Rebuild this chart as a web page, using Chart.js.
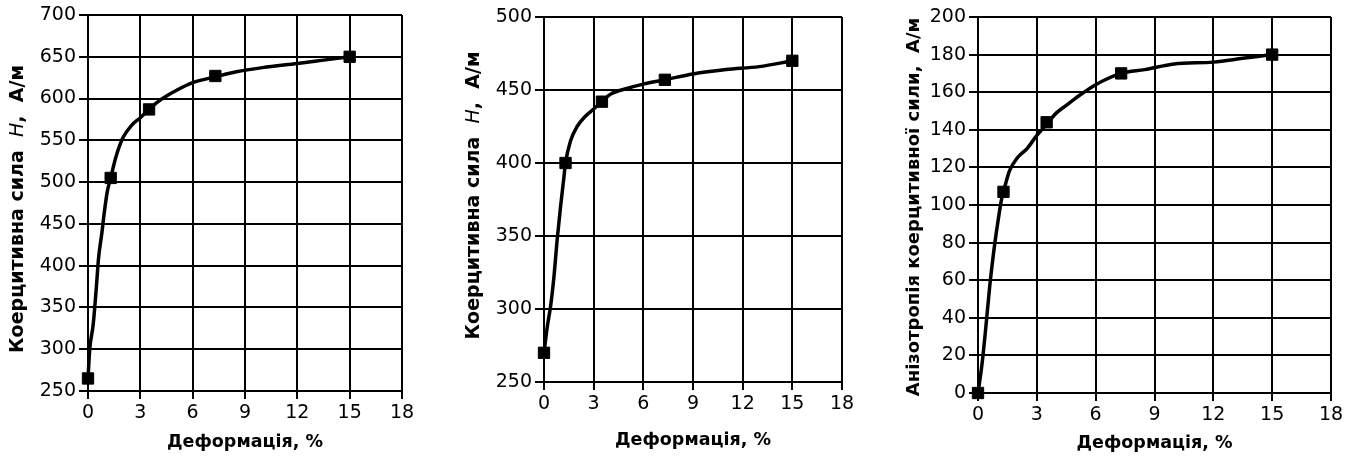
<!DOCTYPE html>
<html>
<head>
<meta charset="utf-8">
<script src="https://cdn.jsdelivr.net/npm/chart.js@4"></script>
<style>
    html, body { margin: 0; padding: 0; background: #fff; }
    .box { position: absolute; top: 0; height: 457px; }
</style>
</head>
<body>
<div class="box" style="left:0;width:430px"><canvas id="chart1"></canvas></div>
<div class="box" style="left:451px;width:420px"><canvas id="chart2"></canvas></div>
<div class="box" style="left:902px;width:451px"><canvas id="chart3"></canvas></div>
<script>
// shared x axis
const strainTicks = [0, 3, 6, 9, 12, 15, 18];
const strainMarks = [0, 1.3, 3.5, 7.3, 15];

// chart 1 - coercive force H
const strainCurve1 = [0, 0.1, 0.3, 0.5, 0.6, 0.8, 0.9, 1.1, 1.3, 1.6, 2.0, 2.5, 3.0, 3.5, 4.0, 4.5, 5.0, 6.0, 7.3, 8.5, 10, 12, 13.5, 15];
const forceCurve1 = [265, 300, 330, 380, 408, 440, 458, 488, 505, 530, 553, 568, 577, 587, 596, 603, 609, 619, 626, 632, 637, 642, 646, 650];
const forceMarks1 = [265, 505, 587, 627, 650];
const forceTicks1 = [250, 300, 350, 400, 450, 500, 550, 600, 650, 700];

// chart 2 - coercive force H
const strainCurve2 = [0, 0.2, 0.4, 0.6, 0.8, 1.0, 1.2, 1.3, 1.6, 2.0, 2.5, 3.0, 3.5, 4.0, 5.0, 6.0, 7.3, 9, 11, 13, 15];
const forceCurve2 = [270, 288, 302, 322, 348, 370, 390, 400, 415, 425, 432, 437, 442, 447, 451, 454, 457, 461, 464, 466, 470];
const forceMarks2 = [270, 400, 442, 457, 470];
const forceTicks2 = [250, 300, 350, 400, 450, 500];

// chart 3 - anisotropy of coercive force
const strainCurve3 = [0, 0.2, 0.4, 0.6, 0.8, 1.0, 1.2, 1.3, 1.6, 2.0, 2.5, 3.0, 3.5, 4.0, 4.5, 5.0, 6.0, 7.3, 8.5, 10, 12, 13.5, 15];
const anisoCurve3 = [0, 15, 35, 57, 75, 90, 103, 107, 118, 125, 130, 137, 143, 149, 153, 157, 164, 170, 172, 175, 176, 178, 180];
const anisoMarks3 = [0, 107, 144, 170, 180];
const anisoTicks3 = [0, 20, 40, 60, 80, 100, 120, 140, 160, 180, 200];

const TICK_FONT = { family: "DejaVu Sans", size: 19 };
const TITLE_FONT = "bold 19px 'DejaVu Sans'";

// rotated y title, drawn by hand so "H" can be italic
const yTitlePlugin = {
    id: "yTitle",
    afterDraw(chart, args, opts) {
        const ctx = chart.ctx;
        const area = chart.chartArea;
        ctx.save();
        ctx.translate(opts.x, (area.top + area.bottom) / 2 + opts.shift);
        ctx.rotate(-Math.PI / 2);
        ctx.fillStyle = "#000";
        ctx.textBaseline = "middle";
        ctx.textAlign = "left";
        let total = 0;
        const parts = opts.parts.map((p) => {
            ctx.font = p.font;
            const w = ctx.measureText(p.text).width;
            total += w;
            return { text: p.text, font: p.font, w };
        });
        let x = -total / 2;
        parts.forEach((p) => {
            ctx.font = p.font;
            ctx.fillText(p.text, x, 0);
            x += p.w;
        });
        ctx.restore();
    },
};

function makeChart(id, curveX, curveY, marksY, yTicks, look) {
    const curve = curveX.map((x, i) => ({ x, y: curveY[i] }));
    const marks = strainMarks.map((x, i) => ({ x, y: marksY[i] }));

    new Chart(document.getElementById(id), {
        type: "line",
        data: {
            datasets: [
                {
                    data: curve,
                    borderColor: "#000",
                    borderWidth: 3.5,
                    pointRadius: 0,
                    cubicInterpolationMode: "monotone",
                    clip: false,
                },
                {
                    data: marks,
                    showLine: false,
                    pointStyle: "rect",
                    pointRadius: 8,
                    backgroundColor: "#000",
                    borderColor: "#000",
                    clip: false,
                },
            ],
        },
        options: {
            responsive: true,
            maintainAspectRatio: false,
            animation: false,
            layout: { padding: { top: look.top, right: look.right, left: 0, bottom: 0 } },
            plugins: {
                legend: { display: false },
                tooltip: { enabled: false },
                yTitle: { x: look.titleX, shift: look.shift, parts: look.parts },
            },
            scales: {
                x: {
                    type: "linear",
                    min: 0,
                    max: 18,
                    afterBuildTicks: (s) => { s.ticks = strainTicks.map((v) => ({ value: v })); },
                    afterFit: (s) => { s.height = look.xHeight; },
                    grid: { color: "#000", lineWidth: 2, tickLength: 8 },
                    border: { color: "#000", width: 2 },
                    ticks: { color: "#000", font: TICK_FONT, padding: 3, maxRotation: 0 },
                    title: {
                        display: true,
                        text: "Деформація, %",
                        color: "#000",
                        font: { family: "DejaVu Sans", size: 17.5, weight: "bold" },
                        padding: { top: 0, bottom: look.xTitlePad },
                    },
                },
                y: {
                    min: yTicks[0],
                    max: yTicks[yTicks.length - 1],
                    afterBuildTicks: (s) => { s.ticks = yTicks.map((v) => ({ value: v })); },
                    afterFit: (s) => { s.width = look.yWidth; },
                    grid: { color: "#000", lineWidth: 2, tickLength: 9 },
                    border: { color: "#000", width: 2 },
                    ticks: { color: "#000", font: TICK_FONT, padding: 3 },
                },
            },
        },
        plugins: [yTitlePlugin],
    });
}

const forceTitle = [
    { text: "Коерцитивна сила  ", font: TITLE_FONT },
    { text: "H", font: "italic 19px 'DejaVu Sans'" },
    { text: ",  А/м", font: TITLE_FONT },
];

makeChart("chart1", strainCurve1, forceCurve1, forceMarks1, forceTicks1, {
    top: 15, right: 28, yWidth: 88, xHeight: 66, xTitlePad: 4, titleX: 18, shift: 6, parts: forceTitle,
});
makeChart("chart2", strainCurve2, forceCurve2, forceMarks2, forceTicks2, {
    top: 17, right: 29, yWidth: 93, xHeight: 75, xTitlePad: 6, titleX: 23, shift: -4, parts: forceTitle,
});
makeChart("chart3", strainCurve3, anisoCurve3, anisoMarks3, anisoTicks3, {
    top: 17, right: 22, yWidth: 76, xHeight: 64, xTitlePad: 3, titleX: 12, shift: 2,
    parts: [{ text: "Анізотропія коерцитивної сили,  А/м", font: "bold 18px 'DejaVu Sans'" }],
});
</script>
</body>
</html>
